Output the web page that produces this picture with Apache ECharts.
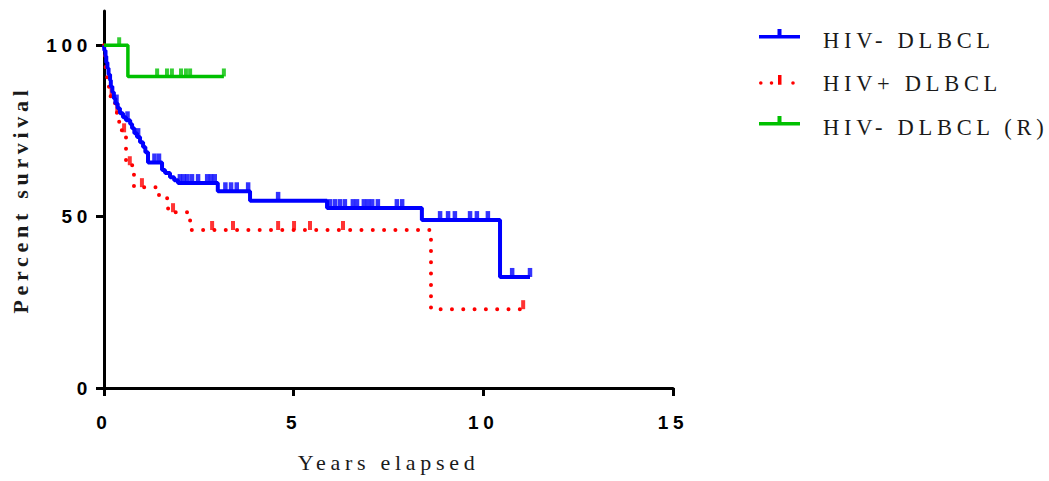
<!DOCTYPE html>
<html>
<head>
<meta charset="utf-8">
<script src="https://cdn.jsdelivr.net/npm/echarts@6/dist/echarts.min.js"></script>
<style>
  html, body { margin: 0; padding: 0; background: #ffffff; }
  #chart { width: 1049px; height: 481px; }
  #chart text { letter-spacing: 4.7px; }
</style>
</head>
<body>
<div id="chart"></div>
<script>
// Kaplan–Meier survival estimates (years, percent surviving)
const seriesNames = ['HIV- DLBCL', 'HIV+ DLBCL', 'HIV- DLBCL (R)'];

const hivNegTimes = [0, 0.01, 0.04, 0.06, 0.09, 0.12, 0.16, 0.18, 0.22, 0.26, 0.30, 0.36, 0.42, 0.50, 0.58, 0.69, 0.74, 0.80, 0.87, 0.95, 1.03, 1.09, 1.16, 1.53, 1.61, 1.74, 1.85, 1.95, 3.00, 3.85, 5.88, 8.38, 10.44, 11.23];
const hivNegSurvival = [100, 98.5, 96.8, 95.0, 93.3, 91.5, 89.8, 88.0, 86.3, 84.5, 83.0, 81.6, 80.2, 79.0, 78.1, 77.0, 75.8, 74.3, 73.2, 71.7, 70.3, 68.8, 65.8, 63.6, 62.7, 61.5, 60.6, 59.8, 57.4, 54.6, 52.5, 49.0, 32.4, 32.4];
const hivNegCensored = [0.33, 0.62, 0.9, 1.33, 1.45, 2.0, 2.1, 2.2, 2.32, 2.48, 2.72, 2.82, 2.92, 3.2, 3.35, 3.5, 3.8, 4.59, 5.96, 6.09, 6.22, 6.35, 6.56, 6.67, 6.85, 6.96, 7.07, 7.22, 7.72, 7.86, 8.86, 9.07, 9.25, 9.65, 9.83, 10.12, 10.76, 11.23];

const hivPosTimes = [0, 0.01, 0.03, 0.04, 0.05, 0.08, 0.11, 0.13, 0.16, 0.26, 0.34, 0.40, 0.47, 0.58, 0.79, 1.45, 1.69, 2.27, 8.62, 11.05];
const hivPosSurvival = [100, 98.0, 96.2, 94.5, 92.7, 90.7, 88.6, 86.9, 85.1, 83.1, 80.2, 77.3, 74.6, 65.0, 58.6, 55.4, 51.3, 46.1, 23.0, 23.0];
const hivPosCensored = [0.2, 0.35, 0.53, 0.68, 1.0, 1.82, 2.85, 3.40, 4.59, 5.01, 5.43, 6.30, 11.05];

const rituxTimes = [0, 0.63, 3.16];
const rituxSurvival = [100, 90.9, 90.9];
const rituxCensored = [0.4, 1.40, 1.66, 1.79, 2.03, 2.16, 2.27, 3.16];

const xTicks = [0, 5, 10, 15];
const yTicks = [0, 50, 100];

// survival value of a step curve at time t
function survivalAt(times, surv, t) {
  let s = surv[0];
  for (let i = 0; i < times.length; i++) {
    if (times[i] <= t + 1e-9) s = surv[i];
  }
  return s;
}
const zip = (a, b) => a.map((v, i) => [v, b[i]]);
const censorPoints = (times, surv, cens) => cens.map(t => [t, survivalAt(times, surv, t)]);

const BLUE = '#0000ff', RED = '#ff0000', GREEN = '#00c000';

// legend glyphs: line with a censor tick (degenerate sub-paths fix the box)
const solidIcon = 'path://M0,0L0.01,0M0,6L41,6L41,9.5L0,9.5ZM18.5,0L22.5,0L22.5,6L18.5,6ZM59,22L59.01,22';
const dotIcon = 'path://M0,0L0.01,0' +
  'M0,10.5A1.8,1.8 0 1 0 3.6,10.5A1.8,1.8 0 1 0 0,10.5Z' +
  'M10.7,10.5A1.8,1.8 0 1 0 14.3,10.5A1.8,1.8 0 1 0 10.7,10.5Z' +
  'M32.2,10.5A1.8,1.8 0 1 0 35.8,10.5A1.8,1.8 0 1 0 32.2,10.5Z' +
  'M19,2.5L22.5,2.5L22.5,12.3L19,12.3Z' +
  'M59,22L59.01,22';

const chart = echarts.init(document.getElementById('chart'), null, { renderer: 'svg' });

const censorSeries = (name, color, pts, size) => ({
  name: name,
  type: 'scatter',
  data: pts,
  symbol: 'rect',
  symbolSize: size,
  symbolOffset: [0, -size[1] / 2],
  itemStyle: { color: color },
  silent: true,
  z: 3
});

chart.setOption({
  animation: false,
  backgroundColor: '#ffffff',
  grid: { left: 104, right: 376, top: 11, bottom: 93 },
  legend: {
    orient: 'vertical',
    left: 759,
    top: 28.5,
    padding: 0,
    itemWidth: 59,
    itemHeight: 22,
    itemGap: 20.5,
    selectedMode: false,
    itemStyle: { borderWidth: 0 },
    textStyle: { fontFamily: 'Liberation Serif', fontSize: 22.5, color: '#1a1a1a' },
    data: [
      { name: seriesNames[0], icon: solidIcon },
      { name: seriesNames[1], icon: dotIcon },
      { name: seriesNames[2], icon: solidIcon }
    ]
  },
  xAxis: {
    type: 'value',
    min: 0,
    max: 15,
    interval: 5,
    name: 'Years elapsed',
    nameLocation: 'middle',
    nameGap: 63,
    nameTextStyle: { fontFamily: 'Liberation Serif', fontSize: 22, color: '#1a1a1a' },
    axisLine: { onZero: false, lineStyle: { color: '#000', width: 3 } },
    axisTick: { length: 8, lineStyle: { color: '#000', width: 3 } },
    axisLabel: { margin: 25, fontFamily: 'Liberation Sans', fontWeight: 'bold', fontSize: 19, color: '#000' },
    splitLine: { show: false }
  },
  yAxis: {
    type: 'value',
    min: 0,
    max: 110,
    name: 'Percent survival',
    nameLocation: 'middle',
    nameGap: 73,
    nameTextStyle: { fontFamily: 'Liberation Serif', fontWeight: 'bold', fontSize: 22, color: '#1a1a1a' },
    axisLine: { show: true, onZero: false, lineStyle: { color: '#000', width: 3 } },
    axisTick: { show: true, length: 8, customValues: yTicks, lineStyle: { color: '#000', width: 3 } },
    axisLabel: { margin: 12, customValues: yTicks, fontFamily: 'Liberation Sans', fontWeight: 'bold', fontSize: 19, color: '#000' },
    splitLine: { show: false }
  },
  series: [
    {
      name: seriesNames[1],
      type: 'line',
      step: 'end',
      data: zip(hivPosTimes, hivPosSurvival),
      showSymbol: false,
      itemStyle: { color: RED },
      lineStyle: { color: RED, width: 4, type: [0.01, 11.3], cap: 'round' },
      silent: true,
      z: 2
    },
    censorSeries(seriesNames[1], RED, censorPoints(hivPosTimes, hivPosSurvival, hivPosCensored), [4, 9]),
    {
      name: seriesNames[0],
      type: 'line',
      step: 'end',
      data: zip(hivNegTimes, hivNegSurvival),
      showSymbol: false,
      itemStyle: { color: BLUE },
      lineStyle: { color: BLUE, width: 4 },
      silent: true,
      z: 4
    },
    censorSeries(seriesNames[0], BLUE, censorPoints(hivNegTimes, hivNegSurvival, hivNegCensored), [4.5, 9]),
    {
      name: seriesNames[2],
      type: 'line',
      step: 'end',
      data: zip(rituxTimes, rituxSurvival),
      showSymbol: false,
      itemStyle: { color: GREEN },
      lineStyle: { color: GREEN, width: 3.5 },
      silent: true,
      z: 5
    },
    censorSeries(seriesNames[2], GREEN, censorPoints(rituxTimes, rituxSurvival, rituxCensored), [4, 8])
  ]
});
</script>
</body>
</html>
